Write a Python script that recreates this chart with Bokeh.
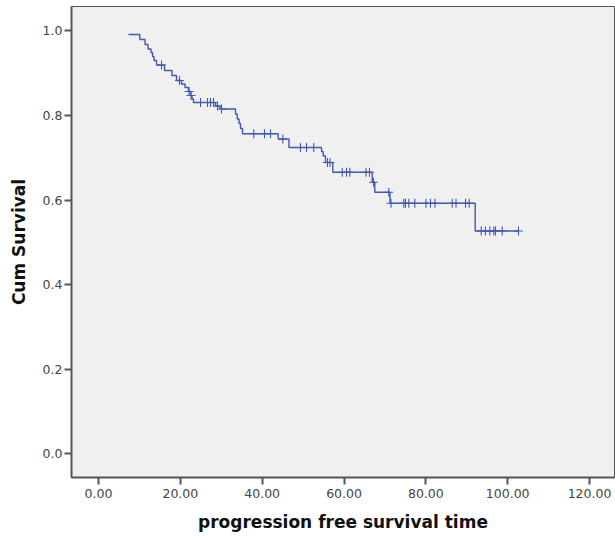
import numpy as np
from bokeh.plotting import figure
from bokeh.models import Range1d, FixedTicker, PrintfTickFormatter
from bokeh.embed import file_html
from bokeh.resources import INLINE

# ---- data (Kaplan-Meier curve) ----
start_time = 7.33
start_surv = 0.9917
event_times = [10.09, 11.36, 12.10, 12.83, 13.20, 13.56, 14.17, 16.13, 17.96, 19.06,
               20.28, 21.14, 21.99, 22.48, 22.85, 23.22, 28.59, 29.69, 33.48, 33.90,
               34.34, 34.70, 35.19, 43.91, 46.55, 54.50, 54.91, 55.47, 57.26, 66.89,
               67.52, 71.24, 92.06]
event_surv = [0.9799, 0.9681, 0.9575, 0.9492, 0.9397, 0.9302, 0.9196, 0.9066, 0.8948, 0.8830,
              0.8747, 0.8664, 0.8569, 0.8475, 0.8393, 0.8310, 0.8227, 0.8156, 0.8037, 0.7919,
              0.7813, 0.7695, 0.7570, 0.7447, 0.7246, 0.7151, 0.7045, 0.6892, 0.6661, 0.6425,
              0.6189, 0.5928, 0.5271]
censor_times = [15.40, 19.79, 22.12, 22.60, 24.93, 26.64, 27.37, 28.10, 29.08, 30.06,
                37.95, 40.57, 42.03, 45.04, 49.36, 50.83, 52.61, 55.96, 56.57, 59.56,
                60.61, 61.41, 65.37, 66.23, 67.20, 70.94, 71.48, 74.61, 75.02, 75.83,
                77.30, 80.03, 81.13, 82.23, 86.44, 87.37, 89.69, 90.59, 93.52, 94.57,
                95.63, 96.60, 97.02, 98.66, 102.64]

x_ticks = [0, 20, 40, 60, 80, 100, 120]
y_ticks = [0.0, 0.2, 0.4, 0.6, 0.8, 1.0]

# ---- build step function ----
xs = [start_time]
ys = [start_surv]
prev = start_surv
for t, s in zip(event_times, event_surv):
    xs += [t, t]
    ys += [prev, s]
    prev = s
xs.append(max(censor_times))
ys.append(prev)

all_t = np.array([start_time] + event_times)
all_s = np.array([start_surv] + event_surv)
censor_surv = [float(all_s[np.searchsorted(all_t, c, side="right") - 1]) for c in censor_times]

line_color = "#4159b2"

p = figure(width=615, height=536, output_backend="svg", toolbar_location=None,
           x_range=Range1d(-6.6, 126.1), y_range=Range1d(-0.0556, 1.0579),
           min_border_left=71, min_border_right=1, min_border_top=6, min_border_bottom=59)
p.background_fill_color = "#f0f0f0"
p.border_fill_color = "white"
p.outline_line_color = "#555555"
p.outline_line_width = 1
p.xgrid.visible = False
p.ygrid.visible = False

p.line(xs, ys, line_color=line_color, line_width=1.4)
p.scatter(censor_times, censor_surv, marker="cross", size=9, line_color=line_color, line_width=1.1)

for ax in (p.xaxis[0], p.yaxis[0]):
    ax.axis_line_color = "#555555"
    ax.axis_line_width = 2
    ax.major_tick_line_color = "#555555"
    ax.major_tick_line_width = 2
    ax.major_tick_in = 0
    ax.major_tick_out = 7
    ax.minor_tick_line_color = None
    ax.major_label_text_font = "DejaVu Sans"
    ax.major_label_text_font_size = "12.5px"
    ax.major_label_text_color = "#444444"
    ax.axis_label_text_font = "DejaVu Sans"
    ax.axis_label_text_font_style = "bold"
    ax.axis_label_text_font_size = "17px"
    ax.axis_label_text_color = "#111111"

p.xaxis.ticker = FixedTicker(ticks=x_ticks)
p.yaxis.ticker = FixedTicker(ticks=y_ticks)
p.xaxis.formatter = PrintfTickFormatter(format="%.2f")
p.yaxis.formatter = PrintfTickFormatter(format="%.1f")
p.xaxis.axis_label = "progression free survival time"
p.yaxis.axis_label = "Cum Survival"
p.xaxis.major_label_standoff = 4
p.yaxis.major_label_standoff = 2
p.xaxis.axis_label_standoff = 11
p.yaxis.axis_label_standoff = 11

open("out.html", "w").write(file_html(p, INLINE))
